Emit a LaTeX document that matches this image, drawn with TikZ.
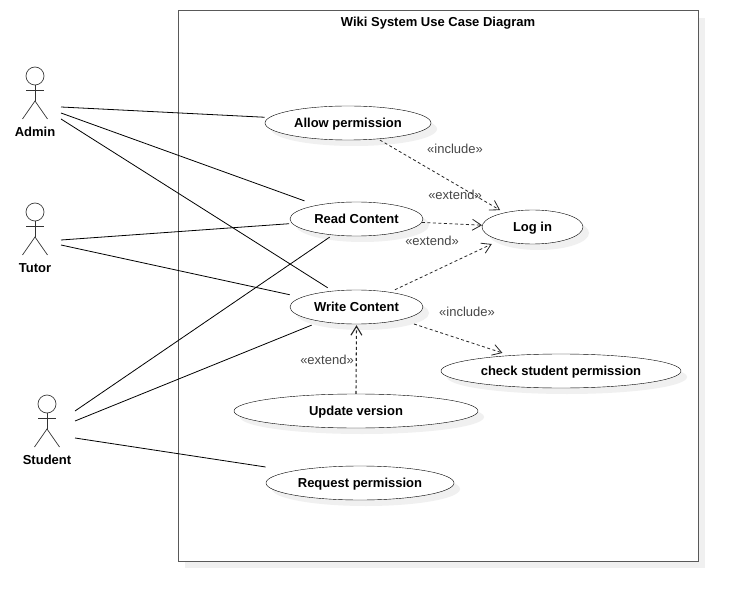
\documentclass[tikz,border=0pt]{standalone}
\usepackage{fontspec}
\setmainfont{Liberation Sans}
\usetikzlibrary{arrows.meta, shapes.geometric, shadows}

\tikzset{
    usecase/.style={ellipse, draw, fill=white, inner sep=0pt, minimum height=34pt, text height=9.5pt, text depth=0pt, font=\fontsize{13}{15}\selectfont\bfseries,
        general shadow={fill=black!6, shadow xshift=6pt, shadow yshift=-6pt}},
    stereo/.style={text=black!72, font=\fontsize{13}{15}\selectfont},
    actorname/.style={text height=9.5pt, text depth=0pt, font=\fontsize{13}{15}\selectfont\bfseries},
    assoc/.style={draw=black, line width=0.8pt},
    dep/.style={draw=black!85, dashed, dash pattern=on 3pt off 2.5pt, line width=0.8pt, -{Straight Barb[length=9pt, width=11pt]}},
}

\begin{document}
\begin{tikzpicture}[x=1pt, y=-1pt]
    \useasboundingbox (0,0) rectangle (738,601);

    % System boundary
    \fill [black!6] (185,18) rectangle (705,568);
    \node (system) at (438,286) [draw=black!65, fill=white, line width=1pt, minimum width=520pt, minimum height=550pt, inner sep=0pt] {};
    \node (title) at (438,22) [actorname] {Wiki System Use Case Diagram};

    % Actors
    \foreach \actor/\ax/\ay/\who in {admin/35/0/Admin, tutor/35/136/Tutor, student/47/328/Student} {
        \node (\actor head) at (\ax,76+\ay) [circle, draw=black!75, fill=white, inner sep=0pt, minimum size=18pt, line width=0.7pt] {};
        \coordinate (\actor neck) at (\ax,101+\ay);
        \coordinate (\actor larm) at (\ax-9,90.5+\ay);
        \coordinate (\actor rarm) at (\ax+9,90.5+\ay);
        \coordinate (\actor lleg) at (\ax-12.5,119+\ay);
        \coordinate (\actor rleg) at (\ax+12.5,119+\ay);
        \draw [black!80, line width=0.7pt] (\actor head) -- (\actor neck);
        \draw [black!80, line width=0.7pt] (\actor larm) -- (\actor rarm);
        \draw [black!80, line width=0.7pt] (\actor lleg) -- (\actor neck) -- (\actor rleg);
        \node (\actor name) at (\ax,132+\ay) [actorname] {\who};
    }

    % Use cases
    \node (allow) at (348,123) [usecase, minimum width=166pt] {Allow permission};
    \node (read) at (356.5,219) [usecase, minimum width=133pt] {Read Content};
    \node (write) at (356.5,307) [usecase, minimum width=133pt] {Write Content};
    \node (login) at (532.5,227) [usecase, minimum width=101pt] {Log in};
    \node (check) at (561,371) [usecase, minimum width=240pt] {check student permission};
    \node (update) at (356,411) [usecase, minimum width=244pt] {Update version};
    \node (request) at (360,483) [usecase, minimum width=188pt] {Request permission};

    % Free ends beside the actors
    \coordinate (admin a) at (61,107);
    \coordinate (admin b) at (61,113);
    \coordinate (admin c) at (61,119);
    \coordinate (tutor a) at (61,240);
    \coordinate (tutor b) at (61,245);
    \coordinate (student a) at (75,411);
    \coordinate (student b) at (75,421);
    \coordinate (student c) at (75,438);

    \draw [assoc, shorten >=4.5pt] (admin a) -- (allow.176);
    \draw [assoc, shorten >=12.8pt] (admin b) -- (read.161);
    \draw [assoc, shorten >=5.9pt] (admin c) -- (write.146);
    \draw [assoc, shorten >=3pt] (tutor a) -- (read.184);
    \draw [assoc, shorten >=12pt] (tutor b) -- (write.170);
    \draw [assoc, shorten >=3.6pt] (student a) -- (read.214);
    \draw [assoc, shorten >=9.7pt] (student b) -- (write.202);
    \draw [assoc, shorten >=27pt] (student c) -- (request.170);

    \draw [dep, shorten <=2pt, shorten >=5pt] (allow.332) -- (login.153);
    \draw [dep] (read.357) -- (login.178);
    \draw [dep, shorten <=5.5pt, shorten >=9pt] (write.24) -- (login.202);
    \draw [dep, shorten <=13.6pt, shorten >=8pt] (write.344) -- (check.163);
    \draw [dep, line width=1.1pt, shorten >=1pt] (update.north) -- (write.south);

    \node (inc a) at (455,149) [stereo] {«include»};
    \node (ext a) at (455,194.5) [stereo] {«extend»};
    \node (ext b) at (432,240.5) [stereo] {«extend»};
    \node (inc b) at (467,311.5) [stereo] {«include»};
    \node (ext c) at (327,359.5) [stereo] {«extend»};
\end{tikzpicture}
\end{document}
